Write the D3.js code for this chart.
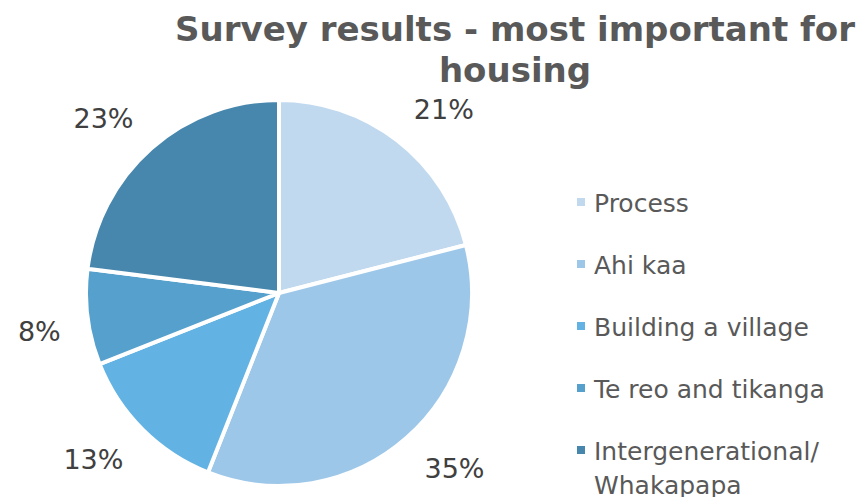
<!DOCTYPE html>
<html>
<head>
<meta charset="utf-8">
<script src="https://cdn.jsdelivr.net/npm/d3@7"></script>
<style>
  body { margin: 0; background: #fff; }
  svg { display: block; }
</style>
</head>
<body>
<svg></svg>
<script>
const WIDTH = 865;
const HEIGHT = 497;
const CX = 279;
const CY = 293;
const R = 193;

const categories = ["Process", "Ahi kaa", "Building a village", "Te reo and tikanga", "Intergenerational/\nWhakapapa"];
const values = [21, 35, 13, 8, 23];
const colors = ["#c0d9ef", "#9dc7e9", "#62b3e3", "#56a0cd", "#4887ad"];
const titleLines = ["Survey results - most important for", "housing"];

let svg = d3.select("svg")
    .attr("width", WIDTH)
    .attr("height", HEIGHT)
    .style("font-family", "'DejaVu Sans', Verdana, sans-serif");

// title
svg.append("text")
    .attr("y", 41)
    .attr("text-anchor", "middle")
    .style("font-size", "34px")
    .style("font-weight", "bold")
    .style("fill", "#595959")
    .selectAll("tspan")
    .data(titleLines)
    .join("tspan")
    .attr("x", 515)
    .attr("dy", (d, i) => i == 0 ? 0 : 41)
    .text(d => d);

let data = values.map((v, i) => ({ name: categories[i], value: v, color: colors[i] }));

let pie = d3.pie()
    .sort(null)
    .value(d => d.value);

let arc = d3.arc()
    .innerRadius(0)
    .outerRadius(R);

// labels sit outside the edge, nearest corner of the text box on this radius
const LABEL_R = 220;

let g = svg.append("g")
    .attr("transform", `translate(${CX}, ${CY})`);

let arcs = pie(data);

g.selectAll("path")
    .data(arcs)
    .join("path")
    .attr("d", arc)
    .style("fill", d => d.data.color)
    .style("stroke", "#fff")
    .style("stroke-width", 4)
    .style("stroke-linejoin", "round");

let labels = g.selectAll("text.lbl")
    .data(arcs)
    .join("text")
    .attr("class", "lbl")
    .attr("text-anchor", "middle")
    .style("font-size", "27px")
    .style("fill", "#404040")
    .text(d => d.data.value + "%");

labels.each(function (d) {
    let a = (d.startAngle + d.endAngle) / 2;
    let dx = Math.sin(a), dy = -Math.cos(a);
    let hw = this.getComputedTextLength() / 2;
    let hh = 10;
    let x = dx * LABEL_R + Math.sign(dx) * hw;
    let y = dy * LABEL_R + Math.sign(dy) * hh;
    d3.select(this).attr("x", x).attr("y", y + hh);
});

// legend
const legendY = [202, 264, 326, 388, 450];
let legend = svg.append("g");

let item = legend.selectAll("g")
    .data(data)
    .join("g")
    .attr("transform", (d, i) => `translate(577, ${legendY[i]})`);

item.append("rect")
    .attr("x", 0)
    .attr("y", -4)
    .attr("width", 8)
    .attr("height", 8)
    .style("fill", d => d.color);

item.append("text")
    .attr("y", 10)
    .style("font-size", "25px")
    .style("fill", "#595959")
    .selectAll("tspan")
    .data(d => d.name.split("\n"))
    .join("tspan")
    .attr("x", 17)
    .attr("dy", (d, i) => i == 0 ? 0 : 34)
    .text(d => d);
</script>
</body>
</html>
